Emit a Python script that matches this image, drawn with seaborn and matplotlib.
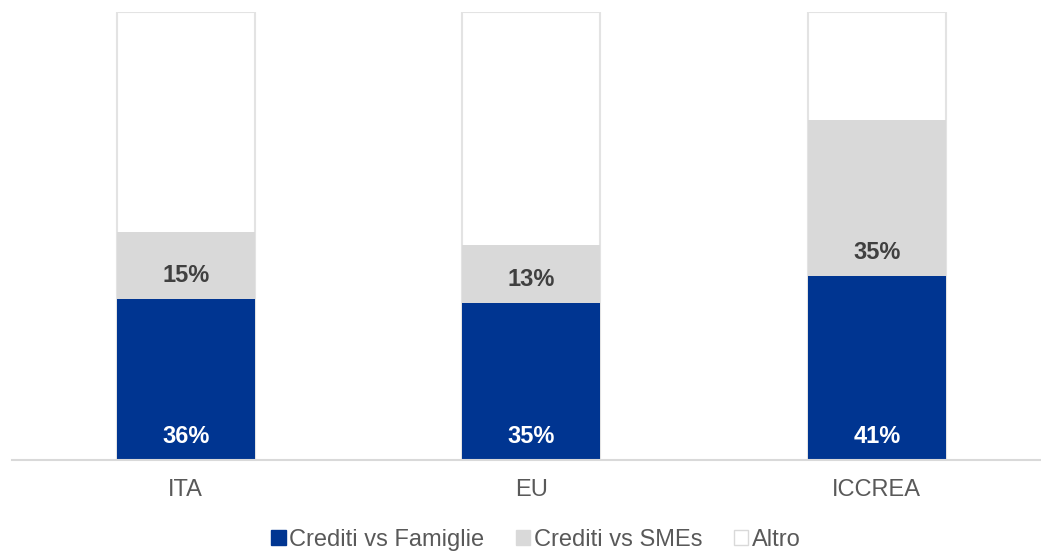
import matplotlib
matplotlib.use("Agg")
import matplotlib.pyplot as plt
import seaborn as sns
import pandas as pd
from matplotlib.patches import Patch

categories = ["ITA", "EU", "ICCREA"]
famiglie = [36, 35, 41]
smes = [15, 13, 35]
altro = [49, 52, 24]
series_names = ["Crediti vs Famiglie", "Crediti vs SMEs", "Altro"]

sns.set_theme(style="white")
plt.rcParams['font.family'] = ['Liberation Sans', 'DejaVu Sans']

fig = plt.figure(figsize=(10.41, 5.51), dpi=100)
ax = fig.add_axes([12/1041, 1-460/551, 1-12/1041, 448/551])

df = pd.DataFrame({"cat": categories, "fam": famiglie, "sme": smes, "alt": altro})
df["fam_sme"] = df["fam"] + df["sme"]
df["tot"] = df["fam_sme"] + df["alt"]

edge = "#e3e3e3"
sns.barplot(data=df, x="cat", y="tot", color="white", edgecolor=edge, linewidth=1.5, width=0.4, ax=ax, saturation=1)
sns.barplot(data=df, x="cat", y="fam_sme", color="#d9d9d9", edgecolor="#d9d9d9", linewidth=0, width=0.4, ax=ax, saturation=1)
sns.barplot(data=df, x="cat", y="fam", color="#003591", edgecolor="#003591", linewidth=0, width=0.4, ax=ax, saturation=1)

off = 23.5 / 448 * 100
for i in range(len(categories)):
    ax.text(i, off, f"{famiglie[i]}%", ha="center", va="center", color="white",
            fontsize=17, fontweight="bold")
    ax.text(i, famiglie[i] + off, f"{smes[i]}%", ha="center", va="center", color="#404040",
            fontsize=17, fontweight="bold")

ax.set_xlim(-0.503, 2.475)
ax.set_ylim(0, 100)
ax.set_xlabel("")
ax.set_ylabel("")
ax.set_yticks([])
for s in ["top", "right", "left"]:
    ax.spines[s].set_visible(False)
ax.spines["bottom"].set_color("#d9d9d9")
ax.spines["bottom"].set_linewidth(1.5)
ax.tick_params(axis="x", length=0, labelsize=17, labelcolor="#595959", pad=14)

handles = [Patch(facecolor="#003591", edgecolor="#003591"),
           Patch(facecolor="#d9d9d9", edgecolor="#d9d9d9"),
           Patch(facecolor="white", edgecolor="#d9d9d9")]
fig.legend(handles, series_names, loc="center", bbox_to_anchor=(536/1041, 1-540/551), ncol=3,
           frameon=False, fontsize=17, labelcolor="#595959", handlelength=0.6, handleheight=0.6,
           handletextpad=0.15, columnspacing=1.35, borderaxespad=0)

fig.savefig("out.png", dpi=100)
